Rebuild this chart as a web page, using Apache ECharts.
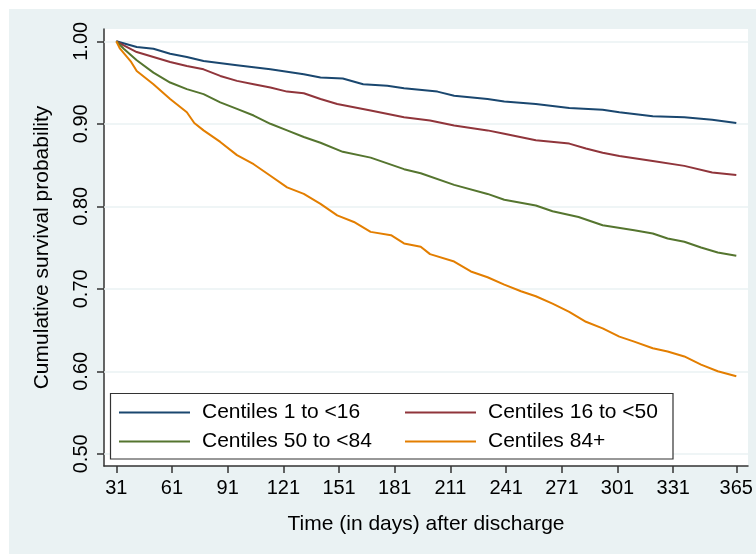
<!DOCTYPE html>
<html>
<head>
<meta charset="utf-8">
<script src="https://cdn.jsdelivr.net/npm/echarts@6/dist/echarts.min.js"></script>
<style>
html,body{margin:0;padding:0;background:#ffffff;}
#chart{position:absolute;left:9px;top:9px;width:747px;height:545px;}
</style>
</head>
<body>
<div id="chart"></div>
<script>
// ---- data (Kaplan-Meier curves) ----
const seriesNames = ['Centiles 1 to <16', 'Centiles 16 to <50', 'Centiles 50 to <84', 'Centiles 84+'];
const xTicks = [31, 61, 91, 121, 151, 181, 211, 241, 271, 301, 331, 365];
const yTicks = [0.5, 0.6, 0.7, 0.8, 0.9, 1.0];

const blueDays = [31,42,51,60,69,78,96,114,132,141,153,164,177,186,204,213,231,240,257,275,293,302,320,337,352,365];
const blueSurv = [1.000,0.993,0.991,0.985,0.981,0.976,0.971,0.966,0.960,0.956,0.955,0.948,0.946,0.943,0.939,0.934,0.930,0.927,0.924,0.919,0.917,0.914,0.909,0.908,0.905,0.901];

const redDays = [31,35,42,51,60,69,78,87,96,105,114,123,132,141,150,168,186,200,213,231,240,257,275,284,293,302,320,337,352,365];
const redSurv = [1.000,0.995,0.987,0.981,0.975,0.970,0.966,0.958,0.952,0.948,0.944,0.939,0.937,0.930,0.924,0.916,0.908,0.904,0.898,0.892,0.888,0.880,0.876,0.870,0.865,0.861,0.855,0.849,0.841,0.838];

const greenDays = [31,35,42,51,60,69,78,87,96,105,114,123,132,141,153,168,186,195,213,231,240,257,266,280,293,310,320,328,337,346,355,365];
const greenSurv = [1.000,0.991,0.977,0.962,0.950,0.942,0.936,0.926,0.918,0.910,0.900,0.892,0.884,0.877,0.866,0.859,0.845,0.840,0.826,0.815,0.808,0.801,0.794,0.787,0.777,0.771,0.767,0.761,0.757,0.750,0.744,0.740];

const orangeDays = [31,33,39,42,51,60,69,73,78,87,96,105,114,123,132,141,150,159,168,179,186,195,200,213,222,231,240,249,257,266,275,284,293,302,310,320,328,337,346,355,365];
const orangeSurv = [1.000,0.991,0.975,0.964,0.948,0.930,0.914,0.901,0.892,0.878,0.862,0.851,0.837,0.823,0.815,0.803,0.789,0.781,0.769,0.765,0.755,0.751,0.742,0.733,0.721,0.714,0.705,0.697,0.691,0.682,0.672,0.660,0.652,0.642,0.636,0.628,0.624,0.618,0.608,0.600,0.594];

// ---- styling ----
const colors = ['#1a476f', '#90353b', '#55752f', '#e37e00'];
const FONT = 'Liberation Sans, Arial, sans-serif';
const zip = (a, b) => a.map((d, i) => [d, b[i]]);
const allDays = [blueDays, redDays, greenDays, orangeDays];
const allSurv = [blueSurv, redSurv, greenSurv, orangeSurv];

const chart = echarts.init(document.getElementById('chart'));

const series = seriesNames.map((name, i) => ({
  name: name,
  type: 'line',
  data: zip(allDays[i], allSurv[i]),
  showSymbol: false,
  symbol: 'none',
  color: colors[i],
  lineStyle: { width: 2, color: colors[i] },
  z: 3,
  silent: true
}));

// horizontal grid lines placed through the y scale (drawn below the curves)
series.push({
  name: 'grid',
  type: 'line',
  data: [],
  z: 1,
  silent: true,
  markLine: {
    silent: true,
    z: 1,
    symbol: ['none', 'none'],
    label: { show: false },
    lineStyle: { color: '#EAF2F3', width: 1.5, type: 'solid' },
    emphasis: { disabled: true },
    data: yTicks.map(v => ({ yAxis: v }))
  }
});

const legendCommon = {
  orient: 'vertical',
  top: 393,
  padding: 0,
  z: 10,
  itemWidth: 71,
  itemHeight: 2,
  itemGap: 8,
  icon: 'rect',
  selectedMode: false,
  textStyle: { fontFamily: FONT, fontSize: 21, color: '#000', lineHeight: 21, padding: [0, 0, 0, 7] }
};

chart.setOption({
  animation: false,
  backgroundColor: '#EAF2F3',
  grid: {
    left: 95, right: 8, top: 20, bottom: 88,
    show: true, backgroundColor: '#ffffff', borderWidth: 0
  },
  xAxis: {
    type: 'value',
    min: 24.37, max: 371.3,
    name: 'Time (in days) after discharge',
    nameLocation: 'middle',
    nameGap: 48,
    nameTextStyle: { fontFamily: FONT, fontSize: 21, color: '#000' },
    axisLine: { show: true, lineStyle: { color: '#333', width: 1.5 } },
    axisTick: { show: true, length: 7, customValues: xTicks, lineStyle: { color: '#333', width: 1.5 } },
    axisLabel: { customValues: xTicks, fontFamily: FONT, fontSize: 20, color: '#000', margin: 12 },
    splitLine: { show: false }
  },
  yAxis: {
    type: 'value',
    min: 0.4852, max: 1.0149,
    name: 'Cumulative survival probability',
    nameLocation: 'middle',
    nameGap: 51,
    nameTextStyle: { fontFamily: FONT, fontSize: 21, color: '#000' },
    axisLine: { show: true, lineStyle: { color: '#333', width: 1.5 } },
    axisTick: { show: true, length: 7, customValues: yTicks, lineStyle: { color: '#333', width: 1.5 } },
    axisLabel: {
      customValues: yTicks, rotate: 90, fontFamily: FONT, fontSize: 20, color: '#000', margin: 13,
      formatter: v => v.toFixed(2)
    },
    splitLine: { show: false }
  },
  legend: [
    Object.assign({}, legendCommon, { left: 110, data: [seriesNames[0], seriesNames[2]] }),
    Object.assign({}, legendCommon, { left: 396, data: [seriesNames[1], seriesNames[3]] })
  ],
  graphic: [{
    type: 'rect',
    z: 5,
    shape: { x: 101.5, y: 384.5, width: 562.5, height: 65.5 },
    style: { fill: '#ffffff', stroke: '#333', lineWidth: 1.2 },
    silent: true
  }],
  series: series
});
</script>
</body>
</html>
